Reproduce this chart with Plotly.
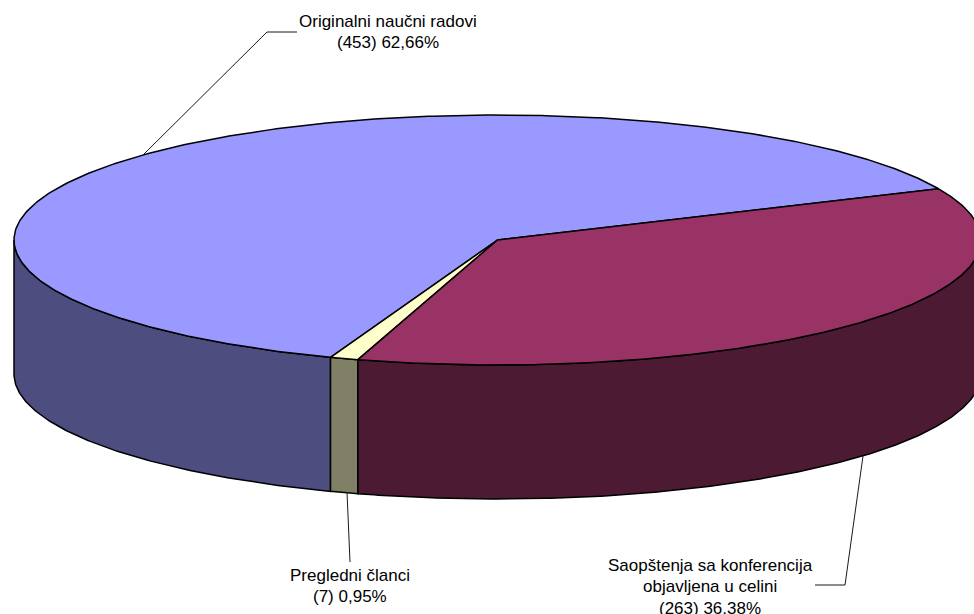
import numpy as np
import plotly.graph_objects as go

# Publication types and their shares
categories = ["Originalni naučni radovi", "Pregledni članci", "Saopštenja sa konferencija objavljena u celini"]
counts = [453, 7, 263]
percents = [62.66, 0.95, 36.38]
percent_labels = ["62,66%", "0,95%", "36,38%"]

top_colors = ["#9999FF", "#FFFFCC", "#993366"]
side_colors = ["#4D4D80", "#808066", "#4D1A33"]

# Tilted-disc geometry in page pixels
CX, CY = 497.5, 240.0
RX, RY = 483.5, 125.0
DEPTH = 134.0
START_DEG = 24.2


def rim(a, b, dy=0.0):
    t = np.radians(np.linspace(a, b, max(int(abs(b - a) * 2), 2) + 1))
    return CX + RX * np.cos(t), CY + dy - RY * np.sin(t)


def polygon(fig, x, y, fill):
    fig.add_trace(go.Scatter(
        x=np.append(x, x[0]), y=np.append(y, y[0]), mode="lines", fill="toself",
        fillcolor=fill, line=dict(color="#000000", width=1.5),
        hoverinfo="skip", showlegend=False,
    ))


fig = go.Figure()

edges = START_DEG + np.concatenate([[0], np.cumsum(percents)]) / sum(percents) * 360

# Outer wall: only the part facing the viewer (180 to 360 degrees on the rim)
for i in range(len(percents)):
    a = max(edges[i], 180.0)
    b = min(edges[i + 1], 360.0)
    if b > a:
        xt, yt = rim(a, b)
        xb, yb = rim(b, a, DEPTH)
        polygon(fig, np.concatenate([xt, xb]), np.concatenate([yt, yb]), side_colors[i])

# Top face sectors
for i in range(len(percents)):
    xt, yt = rim(edges[i], edges[i + 1])
    polygon(fig, np.concatenate([[CX], xt]), np.concatenate([[CY], yt]), top_colors[i])

# Leader lines from the disc to each label
leader_x = [[143, 267, 297], [347, 350], [863, 845, 815]]
leader_y = [[155, 32, 32], [492, 562], [456, 585, 585]]
for lx, ly in zip(leader_x, leader_y):
    fig.add_trace(go.Scatter(
        x=lx, y=ly, mode="lines", line=dict(color="#1a1a1a", width=1),
        hoverinfo="skip", showlegend=False,
    ))

# Label lines, set individually to keep the wider line spacing
label_lines = [
    (387.5, 21, "Originalni naučni radovi"),
    (387.5, 42, f"({counts[0]}) {percent_labels[0]}"),
    (350, 575, "Pregledni članci"),
    (350, 596, f"({counts[1]}) {percent_labels[1]}"),
    (710, 565, "Saopštenja sa konferencija"),
    (710, 586, "objavljena u celini"),
    (710, 608, f"({counts[2]}) {percent_labels[2]}"),
]
for x, y, text in label_lines:
    fig.add_annotation(
        x=x, y=y, text=text, showarrow=False, xanchor="center", yanchor="middle",
        font=dict(family="Liberation Sans, Arial, sans-serif", size=17, color="#000000"),
    )

fig.update_layout(
    width=974, height=614, autosize=False,
    margin=dict(l=0, r=0, t=0, b=0),
    paper_bgcolor="#FFFFFF", plot_bgcolor="#FFFFFF",
    xaxis=dict(range=[0, 974], visible=False, fixedrange=True),
    yaxis=dict(range=[614, 0], visible=False, fixedrange=True),
)

fig.write_html("out.html", config={"displayModeBar": False})
